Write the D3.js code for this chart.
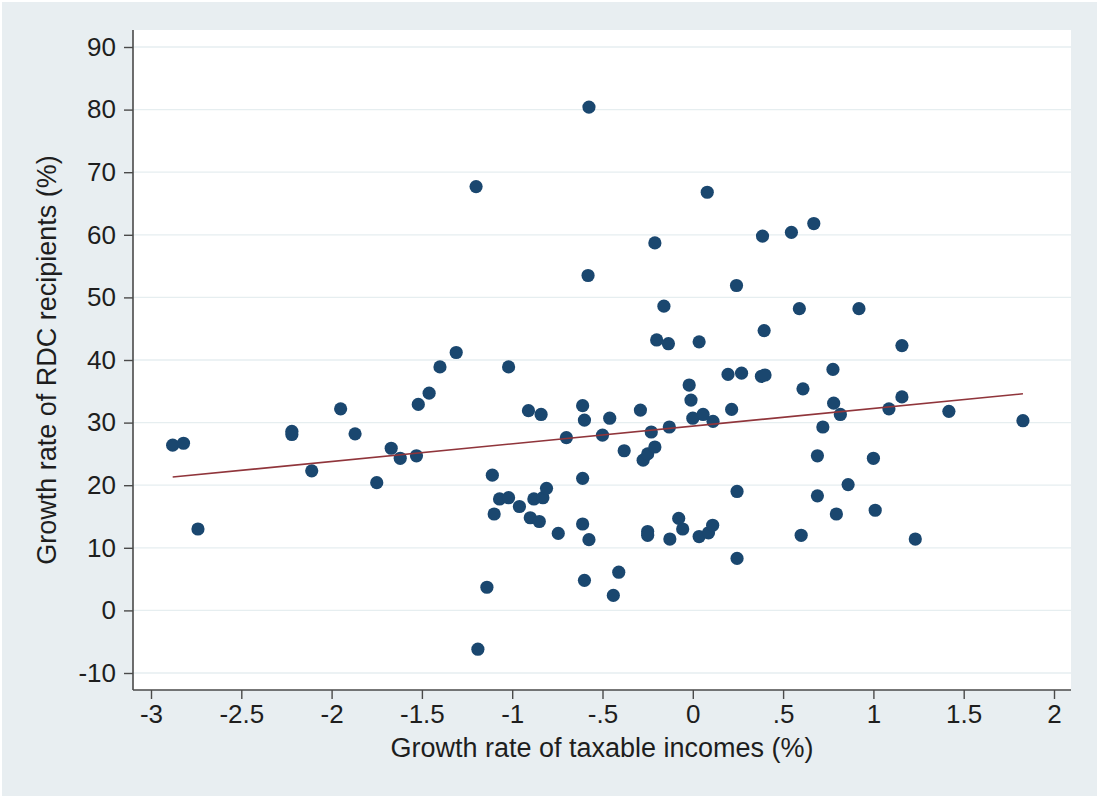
<!DOCTYPE html>
<html>
<head>
<meta charset="utf-8">
<script src="https://cdn.jsdelivr.net/npm/d3@7"></script>
<style>
  html, body { margin: 0; padding: 0; background: #ffffff; }
  svg { display: block; }
  text { font-family: "Liberation Sans", Arial, Helvetica, sans-serif; fill: #1e1e1e; }
</style>
</head>
<body>
<svg id="chart" width="1099" height="798"></svg>
<script>
// Growth of taxable incomes (x) vs growth of RDC recipients (y), one point per unit
const incomeGrowth = [
  -2.88, -2.82, -2.74, -2.22, -2.22, -2.11, -1.95, -1.87, -1.75, -1.67,
  -1.62, -1.53, -1.52, -1.46, -1.40, -1.31, -1.20, -1.19, -1.14, -1.11,
  -1.10, -1.07, -1.02, -1.02, -0.96, -0.91, -0.90, -0.88, -0.85, -0.84,
  -0.83, -0.81, -0.745, -0.70, -0.61, -0.61, -0.61, -0.60, -0.60, -0.58,
  -0.575, -0.575, -0.50, -0.46, -0.44, -0.41, -0.38, -0.29, -0.275, -0.25,
  -0.25, -0.25, -0.23, -0.21, -0.21, -0.20, -0.16, -0.135, -0.13, -0.127,
  -0.078, -0.056, -0.02, -0.01, 0.0, 0.035, 0.035, 0.057, 0.08, 0.087,
  0.11, 0.112, 0.195, 0.215, 0.242, 0.245, 0.245, 0.27, 0.38, 0.386,
  0.40, 0.395, 0.546, 0.59, 0.60, 0.61, 0.67, 0.69, 0.69, 0.72,
  0.776, 0.78, 0.795, 0.817, 0.86, 0.92, 1.0, 1.01, 1.086, 1.158,
  1.158, 1.232, 1.418, 1.828
];
const recipientGrowth = [
  26.4, 26.7, 13.0, 28.6, 28.1, 22.3, 32.2, 28.2, 20.4, 25.9,
  24.3, 24.7, 32.9, 34.7, 38.9, 41.2, 67.7, -6.2, 3.7, 21.6,
  15.4, 17.8, 38.9, 18.0, 16.6, 31.9, 14.8, 17.8, 14.2, 31.3,
  18.0, 19.5, 12.3, 27.6, 32.7, 21.1, 13.8, 30.4, 4.8, 53.5,
  80.4, 11.3, 28.0, 30.7, 2.4, 6.1, 25.5, 32.0, 24.0, 25.0,
  12.6, 12.0, 28.5, 26.1, 58.7, 43.2, 48.6, 42.6, 29.3, 11.4,
  14.7, 13.0, 36.0, 33.6, 30.7, 42.9, 11.8, 31.3, 66.8, 12.4,
  13.6, 30.2, 37.7, 32.1, 51.9, 19.0, 8.3, 37.9, 37.4, 59.8,
  37.6, 44.7, 60.4, 48.2, 12.0, 35.4, 61.8, 24.7, 18.3, 29.3,
  38.5, 33.1, 15.4, 31.3, 20.1, 48.2, 24.3, 16.0, 32.2, 42.3,
  34.1, 11.4, 31.8, 30.3
];

// Fitted linear trend, evaluated at the ends of the x range
const fitX = [-2.88, 1.828];
const fitY = [21.3, 34.6];

// Axis ticks and their labels
const xTicks = [-3, -2.5, -2, -1.5, -1, -0.5, 0, 0.5, 1, 1.5, 2];
const xTickLabels = ["-3", "-2.5", "-2", "-1.5", "-1", "-.5", "0", ".5", "1", "1.5", "2"];
const yTicks = [-10, 0, 10, 20, 30, 40, 50, 60, 70, 80, 90];
const yTickLabels = ["-10", "0", "10", "20", "30", "40", "50", "60", "70", "80", "90"];

const xTitle = "Growth rate of taxable incomes (%)";
const yTitle = "Growth rate of RDC recipients (%)";

const W = 1099, H = 798;
const plot = { left: 133, top: 30, right: 1071, bottom: 690 };

const svg = d3.select("#chart");

// Outer graph region
svg.append("rect")
  .attr("x", 2).attr("y", 2)
  .attr("width", W - 4).attr("height", H - 4)
  .attr("fill", "#e8eef1");

// Plot region
svg.append("rect")
  .attr("x", plot.left).attr("y", plot.top)
  .attr("width", plot.right - plot.left).attr("height", plot.bottom - plot.top)
  .attr("fill", "#ffffff");

const x = d3.scaleLinear().domain([-3, 2]).range([151, 1054]);
const y = d3.scaleLinear().domain([-10, 90]).range([673, 47]);

// Horizontal grid lines
svg.append("g")
  .selectAll("line")
  .data(yTicks)
  .join("line")
  .attr("x1", plot.left).attr("x2", plot.right)
  .attr("y1", d => y(d)).attr("y2", d => y(d))
  .attr("stroke", "#e6eef0")
  .attr("stroke-width", 1.3);

// Y axis
const yAxis = svg.append("g")
  .attr("transform", `translate(${plot.left},0)`)
  .call(d3.axisLeft(y)
    .tickValues(yTicks)
    .tickFormat((d, i) => yTickLabels[i])
    .tickSize(9)
    .tickPadding(8)
    .tickSizeOuter(0));
yAxis.select(".domain").remove();
yAxis.append("line")
  .attr("x1", 0).attr("x2", 0)
  .attr("y1", plot.top).attr("y2", plot.bottom)
  .attr("stroke", "#4a4a4a").attr("stroke-width", 1.6);

// X axis
const xAxis = svg.append("g")
  .attr("transform", `translate(0,${plot.bottom})`)
  .call(d3.axisBottom(x)
    .tickValues(xTicks)
    .tickFormat((d, i) => xTickLabels[i])
    .tickSize(9)
    .tickPadding(6)
    .tickSizeOuter(0));
xAxis.select(".domain").remove();
xAxis.append("line")
  .attr("x1", plot.left).attr("x2", plot.right)
  .attr("y1", 0).attr("y2", 0)
  .attr("stroke", "#4a4a4a").attr("stroke-width", 1.6);

[yAxis, xAxis].forEach(g => {
  g.selectAll(".tick line").attr("stroke", "#4a4a4a").attr("stroke-width", 1.4);
  g.selectAll(".tick text")
    .attr("font-size", 26)
    .attr("fill", "#1e1e1e")
    .style("font-family", '"Liberation Sans", Arial, sans-serif');
});

// Axis titles
svg.append("text")
  .attr("x", (plot.left + plot.right) / 2 + 0)
  .attr("y", 757)
  .attr("text-anchor", "middle")
  .attr("font-size", 27)
  .text(xTitle);

svg.append("text")
  .attr("transform", `translate(56,${(plot.top + plot.bottom) / 2}) rotate(-90)`)
  .attr("text-anchor", "middle")
  .attr("font-size", 27)
  .text(yTitle);

// Scatter points
const points = incomeGrowth.map((v, i) => ({ x: v, y: recipientGrowth[i] }));
svg.append("g")
  .selectAll("circle")
  .data(points)
  .join("circle")
  .attr("cx", d => x(d.x))
  .attr("cy", d => y(d.y))
  .attr("r", 6.6)
  .attr("fill", "#1a476f");

// Linear fit
const fit = fitX.map((v, i) => ({ x: v, y: fitY[i] }));
svg.append("path")
  .datum(fit)
  .attr("d", d3.line().x(d => x(d.x)).y(d => y(d.y)))
  .attr("fill", "none")
  .attr("stroke", "#90353b")
  .attr("stroke-width", 1.6);
</script>
</body>
</html>
